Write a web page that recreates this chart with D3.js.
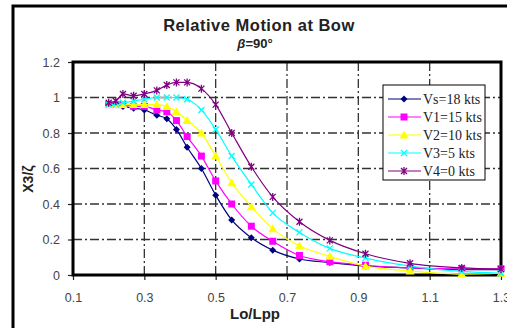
<!DOCTYPE html>
<html>
<head>
<meta charset="utf-8">
<script src="https://cdn.jsdelivr.net/npm/d3@7/dist/d3.min.js"></script>
<style>
  html, body { margin: 0; padding: 0; background: #fff; }
  svg { display: block; }
</style>
</head>
<body>
<svg id="chart" width="507" height="328"></svg>
<script>
// Lo/Lpp values shared by all series
const loLpp = [0.20, 0.22, 0.24, 0.27, 0.30, 0.335, 0.363, 0.39, 0.42, 0.46,
               0.50, 0.545, 0.60, 0.66, 0.735, 0.82, 0.92, 1.045, 1.19, 1.30];

const vs18 = [0.96, 0.96, 0.95, 0.94, 0.93, 0.90, 0.88, 0.82, 0.72, 0.60,
              0.45, 0.31, 0.21, 0.14, 0.09, 0.07, 0.05, 0.04, 0.03, 0.03];
const v15  = [0.96, 0.96, 0.96, 0.95, 0.95, 0.93, 0.92, 0.87, 0.78, 0.67,
              0.53, 0.40, 0.275, 0.19, 0.11, 0.075, 0.055, 0.04, 0.035, 0.035];
const v10  = [0.96, 0.96, 0.96, 0.96, 0.96, 0.96, 0.95, 0.92, 0.87, 0.80,
              0.67, 0.52, 0.385, 0.26, 0.165, 0.105, 0.05, 0.023, 0.005, 0.01];
const v5   = [0.96, 0.96, 0.97, 0.98, 0.99, 1.00, 1.00, 1.00, 0.99, 0.93,
              0.82, 0.67, 0.51, 0.35, 0.24, 0.15, 0.095, 0.05, 0.02, 0.01];
const v0   = [0.97, 0.98, 1.02, 1.01, 1.02, 1.04, 1.07, 1.085, 1.085, 1.05,
              0.96, 0.80, 0.61, 0.44, 0.30, 0.195, 0.12, 0.066, 0.04, 0.033];

const seriesNames = ['Vs=18 kts', 'V1=15 kts', 'V2=10 kts', 'V3=5 kts', 'V4=0 kts'];
const seriesValues = [vs18, v15, v10, v5, v0];
const seriesColors = ['#000080', '#ff00ff', '#ffff00', '#00ffff', '#800080'];
const seriesMarkers = ['diamond', 'square', 'triangle', 'cross', 'star'];

const xTicks = [0.1, 0.3, 0.5, 0.7, 0.9, 1.1, 1.3];
const yTicks = [0, 0.2, 0.4, 0.6, 0.8, 1, 1.2];

const margin = { left: 73, top: 62, right: 501, bottom: 275 };

const svg = d3.select('#chart');

const x = d3.scaleLinear().domain([0.1, 1.3]).range([margin.left, margin.right]);
const y = d3.scaleLinear().domain([0, 1.2]).range([margin.bottom, margin.top]);

// äußerer Rahmen (nur links/oben sichtbar)
svg.append('rect')
  .attr('x', 13).attr('y', 6).attr('width', 520).attr('height', 340)
  .attr('fill', '#fff').attr('stroke', '#000').attr('stroke-width', 3);

// Titel
svg.append('text')
  .attr('x', 259).attr('y', 31)
  .attr('text-anchor', 'middle')
  .attr('font-family', 'Liberation Sans, Arial, sans-serif')
  .attr('font-weight', 'bold').attr('font-size', 16.5)
  .attr('letter-spacing', 0.5)
  .attr('fill', '#222')
  .text('Relative Motion at Bow');
const sub = svg.append('text')
  .attr('x', 255).attr('y', 48)
  .attr('text-anchor', 'middle')
  .attr('font-family', 'Liberation Sans, Arial, sans-serif')
  .attr('font-weight', 'bold').attr('font-size', 13)
  .attr('fill', '#222');
sub.append('tspan').attr('font-style', 'italic').text('β');
sub.append('tspan').text('=90°');

// Gitter
const grid = svg.append('g').attr('class', 'grid')
  .attr('stroke', '#333').attr('stroke-width', 1.3)
  .attr('stroke-dasharray', '9,3,2,3');
grid.selectAll('line.v')
  .data(xTicks.filter(d => d > 0.1 && d < 1.3))
  .join('line').attr('class', 'v')
  .attr('x1', d => x(d)).attr('x2', d => x(d))
  .attr('y1', margin.top).attr('y2', margin.bottom);
grid.selectAll('line.h')
  .data(yTicks.filter(d => d > 0 && d < 1.2))
  .join('line').attr('class', 'h')
  .attr('x1', margin.left).attr('x2', margin.right)
  .attr('y1', d => y(d)).attr('y2', d => y(d));

// Achsen
const xAxis = svg.append('g')
  .attr('transform', `translate(0,${margin.bottom})`)
  .call(d3.axisBottom(x).tickValues(xTicks).tickFormat(d3.format('.1f'))
    .tickSizeInner(5).tickSizeOuter(0).tickPadding(13));
const yAxis = svg.append('g')
  .attr('transform', `translate(${margin.left},0)`)
  .call(d3.axisLeft(y).tickValues(yTicks).tickFormat(d => d === 0 || d === 1 ? d : d3.format('.1f')(d))
    .tickSizeInner(5).tickSizeOuter(0).tickPadding(8));
[xAxis, yAxis].forEach(a => {
  a.select('.domain').remove();
  a.selectAll('.tick line').attr('stroke', '#222').attr('stroke-width', 1.2);
  a.selectAll('.tick text')
    .attr('font-family', 'Liberation Sans, Arial, sans-serif')
    .attr('font-size', 12.5).attr('fill', '#444');
});

// Plotrahmen
svg.append('rect')
  .attr('x', margin.left).attr('y', margin.top)
  .attr('width', margin.right - margin.left)
  .attr('height', margin.bottom - margin.top)
  .attr('fill', 'none').attr('stroke', '#000').attr('stroke-width', 3);

// Achsentitel
svg.append('text')
  .attr('x', 255).attr('y', 319)
  .attr('text-anchor', 'middle')
  .attr('font-family', 'Liberation Sans, Arial, sans-serif')
  .attr('font-weight', 'bold').attr('font-size', 15)
  .attr('fill', '#222')
  .text('Lo/Lpp');
svg.append('text')
  .attr('transform', 'translate(33,179) rotate(-90)')
  .attr('text-anchor', 'middle')
  .attr('font-family', 'Liberation Sans, Arial, sans-serif')
  .attr('font-weight', 'bold').attr('font-size', 14)
  .attr('fill', '#222')
  .text('X3/ζ');

// Marker
function drawMarker(g, type, color) {
  if (type === 'diamond') {
    g.append('path').attr('d', 'M0,-3.5L3.5,0L0,3.5L-3.5,0Z').attr('fill', color);
  } else if (type === 'square') {
    g.append('rect').attr('x', -3.5).attr('y', -3.5).attr('width', 7).attr('height', 7).attr('fill', color);
  } else if (type === 'triangle') {
    g.append('path').attr('d', 'M0,-4.5L4.5,3.5L-4.5,3.5Z').attr('fill', color);
  } else if (type === 'cross') {
    g.append('path').attr('d', 'M-3,-3L3,3M-3,3L3,-3').attr('stroke', color).attr('stroke-width', 1.3);
  } else {
    g.append('path').attr('d', 'M-3,-3L3,3M-3,3L3,-3M0,-4L0,4').attr('stroke', color).attr('stroke-width', 1.3);
  }
}

const line = d3.line().x(d => x(d[0])).y(d => y(d[1])).curve(d3.curveMonotoneX);

const seriesG = svg.append('g').attr('class', 'series');
seriesValues.forEach((vals, i) => {
  const pts = loLpp.map((lx, j) => [lx, vals[j]]);
  seriesG.append('path')
    .datum(pts)
    .attr('fill', 'none')
    .attr('stroke', seriesColors[i])
    .attr('stroke-width', 1.2)
    .attr('d', line);
  seriesG.selectAll(`g.m${i}`)
    .data(pts)
    .join('g').attr('class', `m${i}`)
    .attr('transform', d => `translate(${x(d[0])},${y(d[1])})`)
    .each(function () { drawMarker(d3.select(this), seriesMarkers[i], seriesColors[i]); });
});

// Legende
const legend = svg.append('g').attr('transform', 'translate(383,85)');
legend.append('rect')
  .attr('width', 102).attr('height', 95)
  .attr('fill', '#fff').attr('stroke', '#000').attr('stroke-width', 1);
seriesNames.forEach((name, i) => {
  const row = legend.append('g').attr('transform', `translate(0,${14 + i * 18})`);
  row.append('line').attr('x1', 5).attr('x2', 38)
    .attr('stroke', seriesColors[i]).attr('stroke-width', 1.2);
  drawMarker(row.append('g').attr('transform', 'translate(21,0)'), seriesMarkers[i], seriesColors[i]);
  row.append('text')
    .attr('x', 40).attr('y', 5)
    .attr('font-family', 'Liberation Serif, Times New Roman, serif')
    .attr('font-size', 14).attr('fill', '#222')
    .text(name);
});
</script>
</body>
</html>
